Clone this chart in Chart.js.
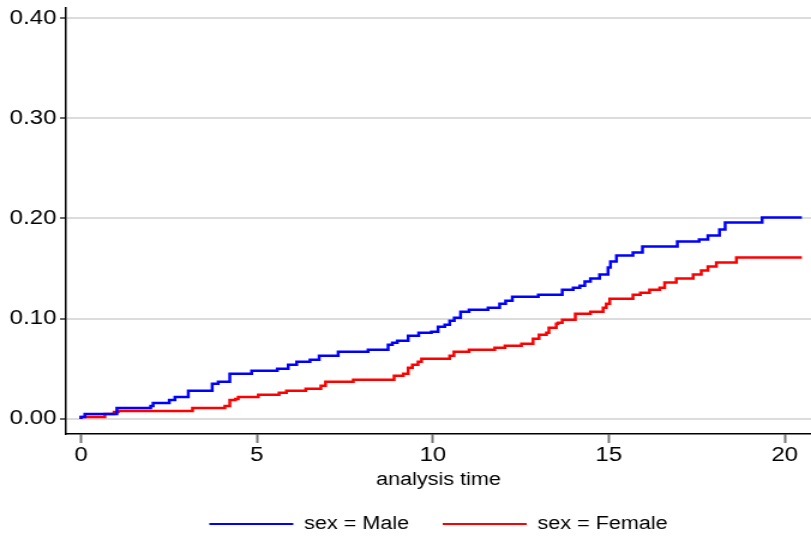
<!DOCTYPE html>
<html>
<head>
<meta charset="utf-8">
<script src="https://cdn.jsdelivr.net/npm/chart.js@4"></script>
<style>
  html, body { margin: 0; padding: 0; background: #fff; }
  #chart { display: block; width: 811px; height: 536px; }
</style>
</head>
<body>
<!-- drawn narrower, then stretched to 811px like the original export -->
<canvas id="chart" width="676" height="536" style="width:811px;height:536px"></canvas>
<script>
// Nelson-Aalen style cumulative hazard
var maleTime = [0, 0.11, 1.02, 1.98, 2.05, 2.51, 2.67, 3.05, 3.73, 3.90, 4.23, 4.85, 5.58, 5.89, 6.13,
  6.51, 6.77, 7.31, 8.16, 8.73, 8.85, 8.99, 9.30, 9.60, 9.96, 10.15, 10.34, 10.48, 10.61, 10.79,
  11.03, 11.57, 11.90, 12.07, 12.26, 13.00, 13.68, 13.99, 14.18, 14.32, 14.48, 14.74, 14.98, 15.05,
  15.22, 15.69, 15.96, 16.95, 17.57, 17.82, 18.15, 18.31, 19.36, 19.92, 20.49];
var maleHazard = [0, 0.002, 0.005, 0.011, 0.013, 0.016, 0.019, 0.022, 0.028, 0.035, 0.037, 0.045, 0.048, 0.050, 0.054,
  0.057, 0.059, 0.063, 0.067, 0.069, 0.074, 0.076, 0.078, 0.083, 0.086, 0.087, 0.092, 0.094, 0.098, 0.101,
  0.107, 0.109, 0.111, 0.115, 0.118, 0.122, 0.124, 0.129, 0.131, 0.133, 0.137, 0.140, 0.144, 0.151,
  0.157, 0.163, 0.166, 0.172, 0.177, 0.179, 0.183, 0.189, 0.196, 0.201, 0.201];

var femaleTime = [0, 0.68, 0.94, 1.06, 3.17, 4.09, 4.23, 4.39, 4.47, 5.04, 5.63, 5.84, 6.39, 6.82, 6.95,
  7.74, 8.90, 9.16, 9.30, 9.42, 9.58, 9.68, 10.48, 10.60, 11.03, 11.76, 12.05, 12.52, 12.85, 13.02,
  13.23, 13.30, 13.51, 13.56, 13.68, 14.05, 14.48, 14.84, 14.93, 15.03, 15.69, 15.90, 16.16, 16.45,
  16.59, 16.92, 17.40, 17.63, 17.82, 18.06, 18.63, 18.82, 20.49];
var femaleHazard = [0, 0.002, 0.005, 0.007, 0.008, 0.011, 0.013, 0.019, 0.020, 0.022, 0.024, 0.026, 0.028, 0.030, 0.033,
  0.037, 0.039, 0.043, 0.045, 0.051, 0.054, 0.057, 0.060, 0.063, 0.067, 0.069, 0.071, 0.073, 0.075, 0.080,
  0.084, 0.086, 0.091, 0.095, 0.096, 0.099, 0.105, 0.107, 0.111, 0.115, 0.120, 0.124, 0.126, 0.129,
  0.131, 0.136, 0.140, 0.144, 0.148, 0.152, 0.156, 0.161, 0.161];

var xTicks = [0, 5, 10, 15, 20];
var yTicks = [0, 0.1, 0.2, 0.3, 0.4];
var seriesNames = ['sex = Male', 'sex = Female'];

function toPoints(xs, ys) {
  return xs.map(function (x, i) { return { x: x, y: ys[i] }; });
}

var family = '"Liberation Sans", Arial, sans-serif';
var font = { family: family, size: 18 };
var tickFont = { family: family, size: 20 };

// move the legend so it centres under the plot region, not the whole canvas
var legendShift = {
  id: 'legendShift',
  afterLayout: function (chart) {
    if (chart.legend) chart.legend.left = chart.chartArea.left;
  }
};

var ctx = document.getElementById('chart').getContext('2d');
var chart = new Chart(ctx, {
  type: 'line',
  data: {
    datasets: [
      {
        label: seriesNames[0],
        data: toPoints(maleTime, maleHazard),
        borderColor: '#0000ff',
        backgroundColor: '#0000ff',
        borderWidth: 2.5,
        stepped: 'after',
        pointRadius: 0,
        fill: false
      },
      {
        label: seriesNames[1],
        data: toPoints(femaleTime, femaleHazard),
        borderColor: '#ff0000',
        backgroundColor: '#ff0000',
        borderWidth: 2.5,
        stepped: 'after',
        pointRadius: 0,
        fill: false
      }
    ]
  },
  options: {
    responsive: false,
    devicePixelRatio: 1,
    animation: false,
    events: [],
    layout: { padding: { top: 8, left: 0, right: 0, bottom: -7 } },
    plugins: {
      legend: {
        position: 'bottom',
        labels: {
          color: '#000',
          font: font,
          boxWidth: 70,
          boxHeight: 2,
          padding: 28,
          generateLabels: function (c) {
            return Chart.defaults.plugins.legend.labels.generateLabels(c).map(function (l) {
              l.lineWidth = 0;
              return l;
            });
          }
        }
      },
      tooltip: { enabled: false }
    },
    scales: {
      x: {
        type: 'linear',
        min: -0.426,
        max: 20.75,
        afterBuildTicks: function (axis) {
          axis.ticks = xTicks.map(function (v) { return { value: v }; });
        },
        afterFit: function (axis) {
          axis.height = 53;
          axis.paddingLeft = 0;
          axis.paddingRight = 0;
        },
        grid: { drawOnChartArea: false, tickLength: 9, tickColor: '#777', tickWidth: 2 },
        border: { color: '#000', width: 1.5 },
        ticks: { color: '#000', font: tickFont, padding: 0, maxRotation: 0 },
        title: { display: true, text: 'analysis time', color: '#000', font: font, padding: { top: 0, bottom: -4 } }
      },
      y: {
        min: -0.01504,
        max: 0.41,
        afterBuildTicks: function (axis) {
          axis.ticks = yTicks.map(function (v) { return { value: v }; });
        },
        afterFit: function (axis) {
          axis.width = 55;
          axis.paddingTop = 0;
          axis.paddingBottom = 0;
        },
        grid: { color: '#dcdcdc', lineWidth: 2, tickLength: 5, tickColor: '#333', tickWidth: 1.5 },
        border: { color: '#000', width: 1.5 },
        ticks: {
          color: '#000',
          font: tickFont,
          padding: 3,
          callback: function (v) { return Number(v).toFixed(2); }
        }
      }
    }
  },
  plugins: [legendShift]
});
</script>
</body>
</html>
